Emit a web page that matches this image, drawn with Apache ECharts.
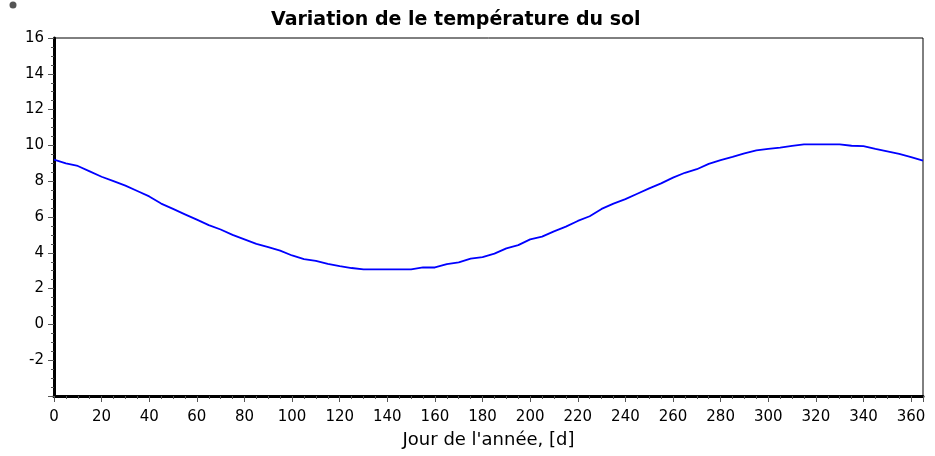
<!DOCTYPE html>
<html>
<head>
<meta charset="utf-8">
<script src="https://cdn.jsdelivr.net/npm/echarts@6/dist/echarts.min.js"></script>
<style>
    html, body { margin: 0; padding: 0; background: #fff; }
    #chart { width: 935px; height: 456px; }
</style>
</head>
<body>
<div id="chart"></div>
<script>
    // jour de l'année (pas de 5 jours)
    const days = [0, 5, 10, 15, 20, 25, 30, 35, 40, 45, 50, 55, 60, 65, 70, 75, 80, 85, 90, 95,
        100, 105, 110, 115, 120, 125, 130, 135, 140, 145, 150, 155, 160, 165, 170, 175, 180, 185, 190, 195,
        200, 205, 210, 215, 220, 225, 230, 235, 240, 245, 250, 255, 260, 265, 270, 275, 280, 285, 290, 295,
        300, 305, 310, 315, 320, 325, 330, 335, 340, 345, 350, 355, 360, 365];
    // température du sol
    const temperature = [9.2, 9.0, 8.85, 8.55, 8.25, 8.0, 7.75, 7.45, 7.15, 6.75, 6.45, 6.15, 5.85, 5.55, 5.3, 5.0, 4.75, 4.5, 4.32, 4.12,
        3.85, 3.65, 3.55, 3.38, 3.26, 3.15, 3.07, 3.07, 3.07, 3.07, 3.07, 3.18, 3.18, 3.37, 3.46, 3.67, 3.76, 3.95, 4.25, 4.43,
        4.75, 4.9, 5.2, 5.46, 5.78, 6.04, 6.45, 6.75, 7.0, 7.3, 7.6, 7.88, 8.2, 8.47, 8.67, 8.97, 9.18, 9.36, 9.56, 9.72,
        9.8, 9.88, 9.97, 10.06, 10.06, 10.06, 10.06, 9.98, 9.96, 9.8, 9.66, 9.52, 9.35, 9.15];

    const chart = echarts.init(document.getElementById('chart'));
    chart.setOption({
        animation: false,
        textStyle: { fontFamily: 'DejaVu Sans, sans-serif' },
        title: {
            text: "Variation de le température du sol",
            left: 266,
            top: 6,
            textStyle: { fontSize: 19, fontWeight: 'bold', color: '#000', fontFamily: 'DejaVu Sans' }
        },
        graphic: [{
            type: 'circle',
            shape: { cx: 13, cy: 5, r: 3.5 },
            style: { fill: '#555' }
        }],
        grid: {
            left: 54, right: 12, top: 38, bottom: 60,
            show: true,
            borderColor: '#000',
            borderWidth: 1
        },
        xAxis: {
            type: 'value',
            min: 0,
            max: 365,
            interval: 20,
            name: "Jour de l'année, [d]",
            nameLocation: 'middle',
            nameGap: 35,
            nameTextStyle: { fontSize: 18, color: '#000' },
            axisLine: { show: true, onZero: false, lineStyle: { color: '#000', width: 3 } },
            axisTick: { show: true, length: 6, lineStyle: { color: '#555' } },
            minorTick: { show: true, splitNumber: 4, length: 3, lineStyle: { color: '#555' } },
            axisLabel: { fontSize: 15, color: '#000', margin: 14, showMaxLabel: false },
            splitLine: { show: false }
        },
        yAxis: {
            type: 'value',
            min: -4,
            max: 16,
            interval: 2,
            axisLine: { show: true, onZero: false, lineStyle: { color: '#000', width: 3 } },
            axisTick: { show: true, length: 6, lineStyle: { color: '#555' } },
            minorTick: { show: true, splitNumber: 4, length: 3, lineStyle: { color: '#555' } },
            axisLabel: { fontSize: 15, color: '#000', margin: 10, showMinLabel: false },
            splitLine: { show: false }
        },
        series: [{
            type: 'line',
            data: days.map((d, i) => [d, temperature[i]]),
            showSymbol: false,
            lineStyle: { color: '#0000ff', width: 1.8 },
            itemStyle: { color: '#0000ff' }
        }]
    });
</script>
</body>
</html>
